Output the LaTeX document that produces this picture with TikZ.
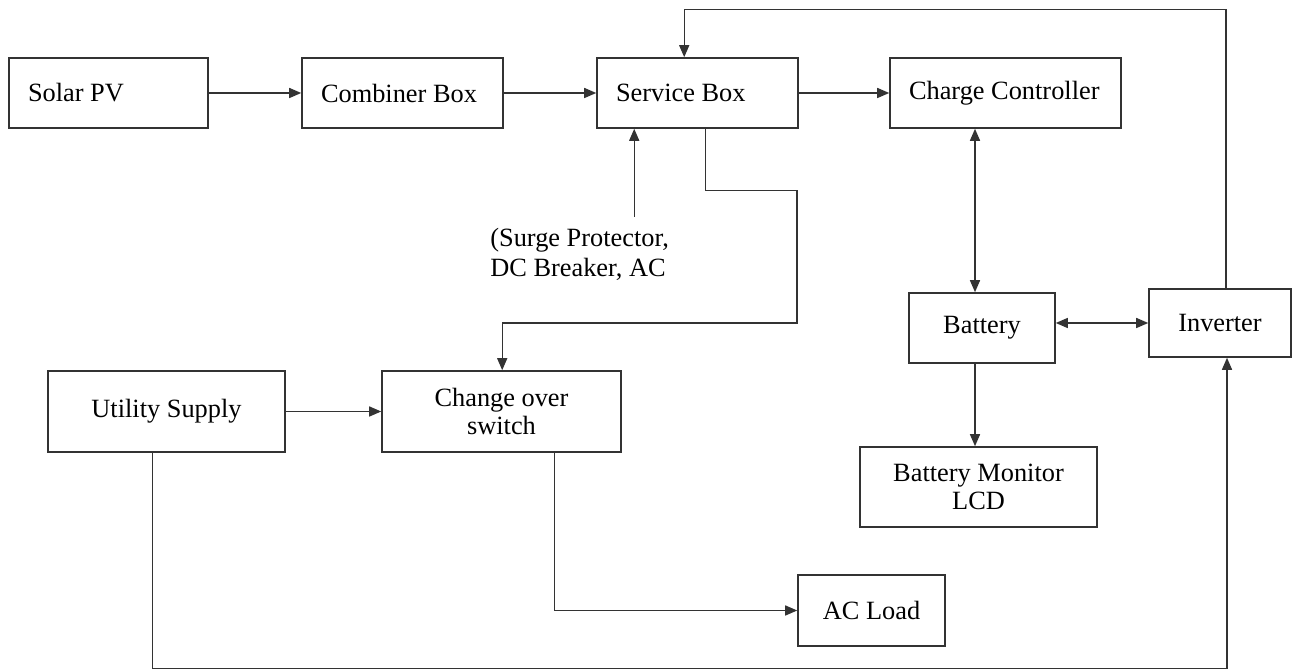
\documentclass[tikz,border=0pt]{standalone}
\usepackage{fontspec}
\setmainfont{Liberation Serif}
\usetikzlibrary{arrows.meta, positioning}
\definecolor{mLine}{HTML}{333333}

\tikzset{
  block/.style={draw=mLine, line width=0.9pt, align=center, font=\fontsize{15}{16}\selectfont},
  toprow/.style={block, align=flush left, inner xsep=0.38cm, minimum height=1.4cm},
  arr/.style={-{Triangle[length=2.4mm, width=2mm]}, draw=mLine, line width=0.8pt},
  darr/.style={{Triangle[length=2.4mm, width=2mm]}-{Triangle[length=2.4mm, width=2mm]}, draw=mLine, line width=0.8pt},
}

\begin{document}
\begin{tikzpicture}[x=0.02cm, y=-0.02cm]
    \useasboundingbox (0,0) rectangle (1292,671);
    % top row
    \node[toprow, text width=3.22cm] (solar) at (108.5,93) {Solar PV};
    \node[toprow, text width=3.26cm] (combiner) at (402.5,93) {Combiner Box};
    \node[toprow, text width=3.26cm] (service) at (697.5,93) {Service Box};
    \node[toprow, text width=3.86cm] (charge) at (1005.5,93) {Charge Controller};
    % storage side
    \node[block, minimum width=2.92cm, minimum height=1.4cm] (battery) at (982,328) {Battery};
    \node[block, minimum width=2.84cm, minimum height=1.36cm] (inverter) at (1220,323) {Inverter};
    \node[block, minimum width=4.74cm, minimum height=1.6cm] (monitor) at (978.5,487) {Battery Monitor\\LCD};
    % grid side
    \node[block, minimum width=4.74cm, minimum height=1.62cm] (utility) at (166.5,411.5) {Utility Supply};
    \node[block, minimum width=4.78cm, minimum height=1.62cm] (change) at (501.5,411.5) {Change over\\switch};
    \node[block, minimum width=2.94cm, minimum height=1.42cm] (acload) at (871.5,610.5) {AC Load};
    \node[font=\fontsize{15}{17}\selectfont, align=left, anchor=north west, inner sep=0pt] (surge) at (490,228) {(Surge Protector,\\DC Breaker, AC};

    \coordinate (sp) at ([xshift=0.76cm]service.south west);
    \coordinate (sbout) at ([xshift=2.18cm]service.south west);
    \coordinate (sbtop) at ([xshift=1.76cm]service.north west);
    \coordinate (cin) at ([xshift=2.42cm]change.north west);
    \coordinate (cbx) at ([xshift=-0.14cm]battery.north);
    \coordinate (ib) at ([xshift=0.14cm]inverter.south);
    \coordinate (it) at ([xshift=0.12cm]inverter.north);

    \draw[arr] (solar) -- (combiner);
    \draw[arr] (combiner) -- (service);
    \draw[arr] (service) -- (charge);
    \draw[arr] ([yshift=0.22cm]surge.north -| sp) -- (sp);
    \draw[arr] (sbout) -- ++(0,62) -| (797,323) -| (cin);
    \draw[darr] (charge.south -| cbx) -- (cbx);
    \draw[darr] (inverter.west -| battery.east) -- (inverter.west);
    \draw[arr] (cbx |- battery.south) -- (cbx |- monitor.north);
    \draw[arr] (utility) -- (change);
    \draw[arr] ([xshift=3.46cm]change.south west) |- (acload.west);
    \draw[arr] ([xshift=2.11cm]utility.south west) -- ++(0,216) -| (ib);
    \draw[arr] (it) -- ++(0,-279) -| (sbtop);
\end{tikzpicture}
\end{document}
